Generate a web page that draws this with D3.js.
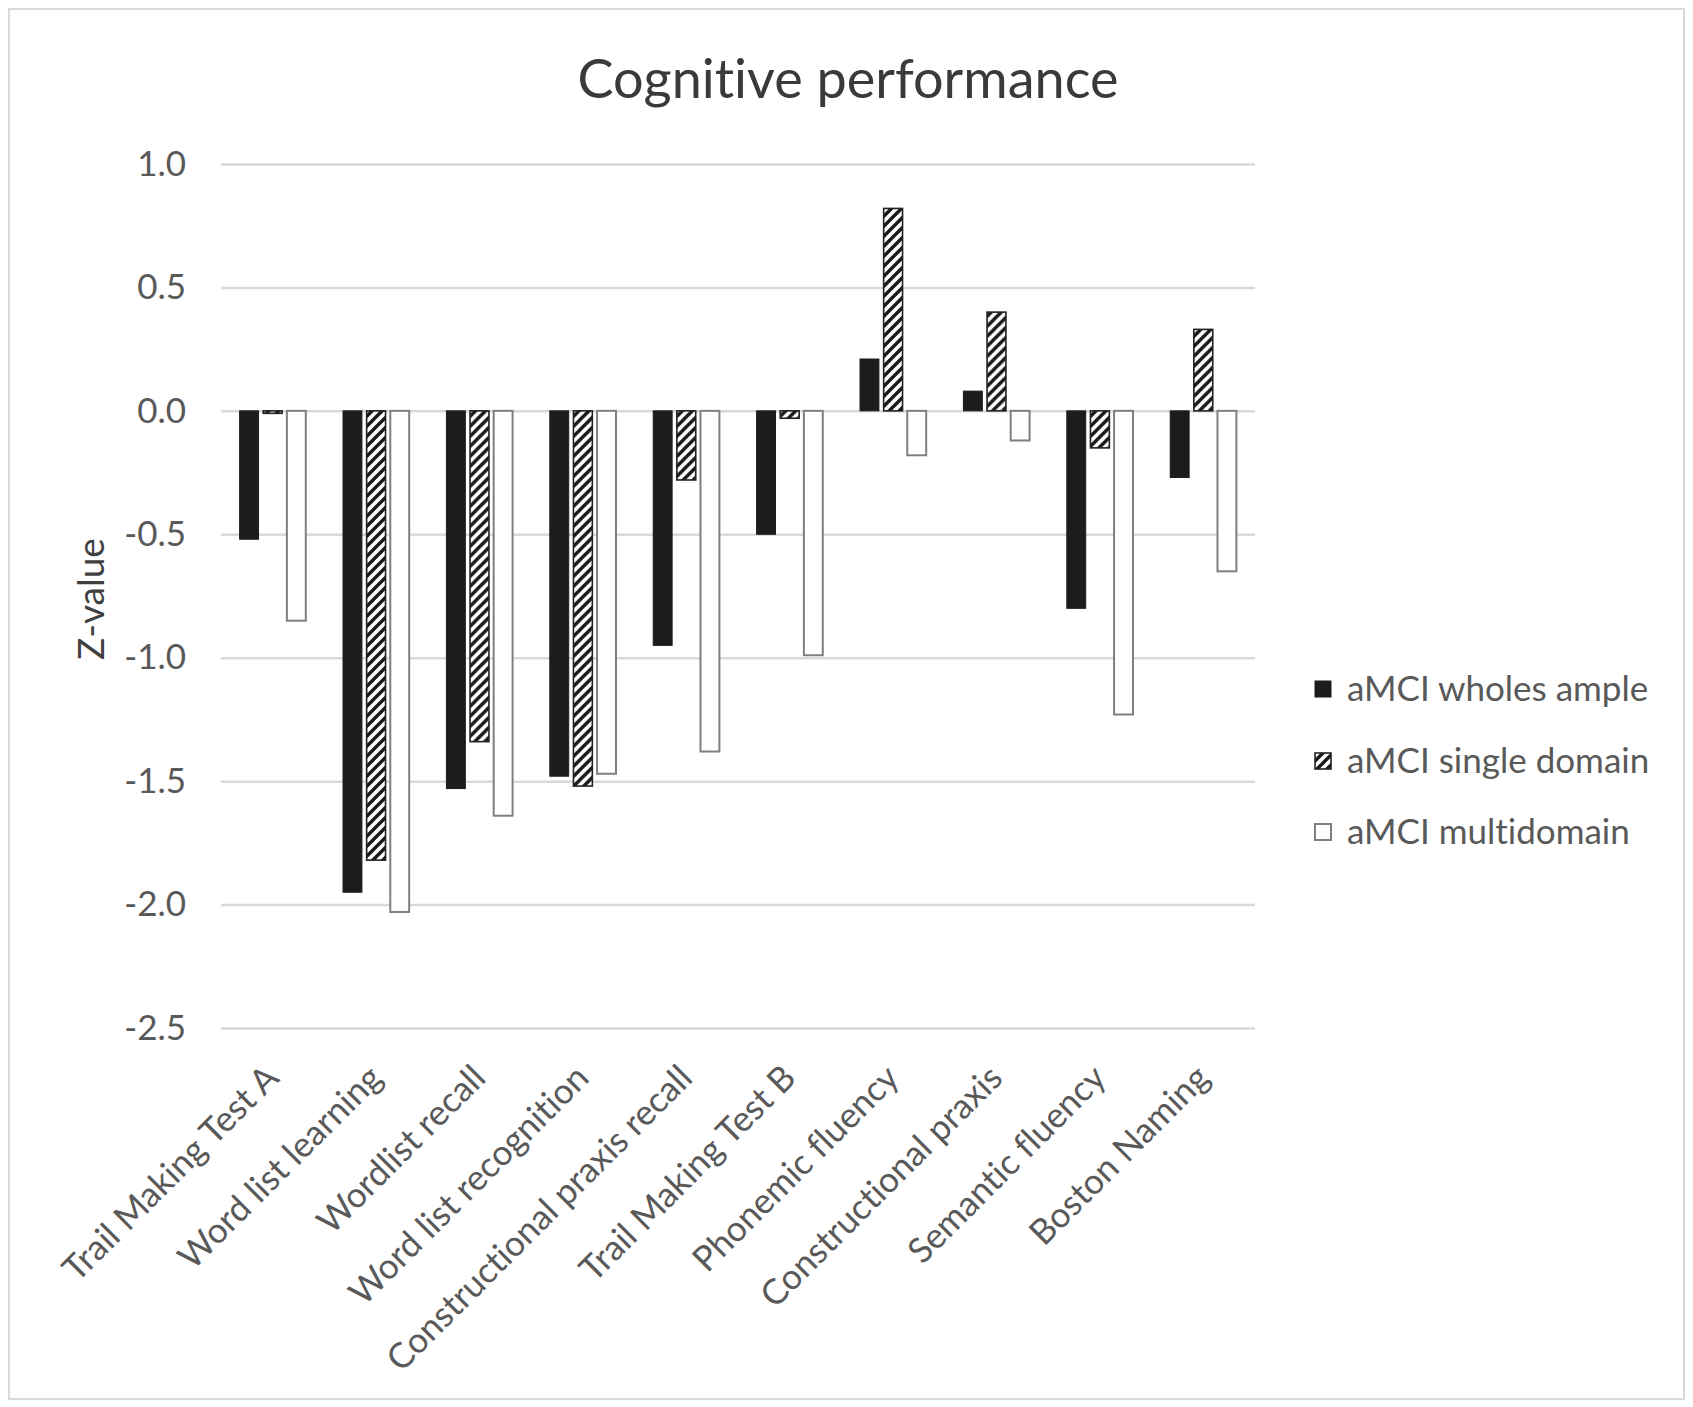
<!DOCTYPE html>
<html>
<head>
<meta charset="utf-8">
<script src="https://cdn.jsdelivr.net/npm/d3@7"></script>
<style>
  html, body { margin: 0; padding: 0; background: #fff; }
  svg { display: block; }
  text { font-family: Lato, "Open Sans", sans-serif; font-variant-ligatures: none; font-feature-settings: "liga" 0, "clig" 0; }
</style>
</head>
<body>
<svg id="chart" width="1693" height="1407"></svg>
<script>
const categories = [
  "Trail Making Test A", "Word list learning", "Wordlist recall", "Word list recognition",
  "Constructional praxis recall", "Trail Making Test B", "Phonemic fluency",
  "Constructional praxis", "Semantic fluency", "Boston Naming"
];
const seriesNames = ["aMCI wholes ample", "aMCI single domain", "aMCI multidomain"];
const wholeSample = [-0.52, -1.95, -1.53, -1.48, -0.95, -0.50, 0.21, 0.08, -0.80, -0.27];
const singleDomain = [-0.01, -1.82, -1.34, -1.52, -0.28, -0.03, 0.82, 0.40, -0.15, 0.33];
const multiDomain = [-0.85, -2.03, -1.64, -1.47, -1.38, -0.99, -0.18, -0.12, -1.23, -0.65];
const yTicks = [1.0, 0.5, 0.0, -0.5, -1.0, -1.5, -2.0, -2.5];
const titleText = "Cognitive performance";
const yTitle = "Z-value";

const seriesValues = [wholeSample, singleDomain, multiDomain];

const svg = d3.select("#chart");
const W = 1693, H = 1407;

// outer frame
svg.append("rect").attr("x", 9).attr("y", 9).attr("width", W - 18).attr("height", H - 17)
  .attr("fill", "#fff").attr("stroke", "#d9d9d9").attr("stroke-width", 2);

// hatch pattern
const defs = svg.append("defs");
const P = 10;
const pat = defs.append("pattern").attr("id", "hatch").attr("patternUnits", "userSpaceOnUse")
  .attr("width", P).attr("height", P);
pat.append("rect").attr("width", P).attr("height", P).attr("fill", "#fff");
pat.append("path").attr("d", `M-3,3 L3,-3 M0,${P} L${P},0 M${P-3},${P+3} L${P+3},${P-3}`)
  .attr("stroke", "#1a1a1a").attr("stroke-width", 3.4);

const plot = { left: 221, right: 1255, top: 164, bottom: 1028 };

const y = d3.scaleLinear().domain([-2.5, 1.0]).range([plot.bottom, plot.top]);
const x0 = d3.scaleBand().domain(categories).range([plot.left, plot.right])
  .paddingInner(0.36).paddingOuter(0.18);
const x1 = d3.scaleBand().domain(seriesNames).range([0, x0.bandwidth()]).paddingInner(0.2);

// title
svg.append("text").attr("x", 848).attr("y", 98).attr("text-anchor", "middle")
  .attr("font-size", 54).attr("fill", "#3a3a3a").text(titleText);

// gridlines + y tick labels
const fmt = d => d3.format(".1f")(d).replace("\u2212", "-");
const yAxis = d3.axisLeft(y).tickValues(yTicks).tickFormat(fmt)
  .tickSize(-(plot.right - plot.left)).tickPadding(35);
const gAxis = svg.append("g").attr("transform", `translate(${plot.left},0)`).call(yAxis);
gAxis.select(".domain").remove();
gAxis.selectAll(".tick line").attr("stroke", "#d9d9d9").attr("stroke-width", 2.5);
gAxis.selectAll(".tick text").attr("font-size", 35).attr("fill", "#595959")
  .attr("font-family", "Lato, sans-serif");

// y title
svg.append("text").attr("transform", "translate(104,599) rotate(-90)")
  .attr("text-anchor", "middle").attr("font-size", 37).attr("fill", "#404040").text(yTitle);

// bars
const styles = [
  { fill: "#1c1c1c", stroke: "#1c1c1c", sw: 1 },
  { fill: "url(#hatch)", stroke: "#222", sw: 1.6 },
  { fill: "#fff", stroke: "#7f7f7f", sw: 2 }
];
const groups = svg.append("g").selectAll("g").data(categories).join("g")
  .attr("transform", d => `translate(${x0(d)},0)`);
groups.selectAll("rect").data((c, i) => seriesNames.map((s, j) => ({ s, j, v: seriesValues[j][i] })))
  .join("rect")
  .attr("x", d => x1(d.s))
  .attr("width", x1.bandwidth())
  .attr("y", d => y(Math.max(0, d.v)))
  .attr("height", d => Math.max(1, Math.abs(y(d.v) - y(0))))
  .attr("fill", d => styles[d.j].fill)
  .attr("stroke", d => styles[d.j].stroke)
  .attr("stroke-width", d => styles[d.j].sw);

// category labels
svg.append("g").selectAll("text").data(categories).join("text")
  .attr("transform", d => `translate(${x0(d) + x0.bandwidth() / 2 + 8},${plot.bottom + 52}) rotate(-45)`)
  .attr("text-anchor", "end")
  .attr("font-size", 35).attr("fill", "#595959").text(d => d);

// legend
const legY = [689, 761, 832];
const leg = svg.append("g").selectAll("g").data(seriesNames).join("g")
  .attr("transform", (d, i) => `translate(1315,${legY[i]})`);
leg.append("rect").attr("x", 0).attr("y", -8).attr("width", 16).attr("height", 16)
  .attr("fill", (d, i) => styles[i].fill).attr("stroke", (d, i) => styles[i].stroke)
  .attr("stroke-width", (d, i) => styles[i].sw);
leg.append("text").attr("x", 32).attr("y", 0).attr("dy", "0.35em")
  .attr("font-size", 35).attr("fill", "#595959").text(d => d);
</script>
</body>
</html>
